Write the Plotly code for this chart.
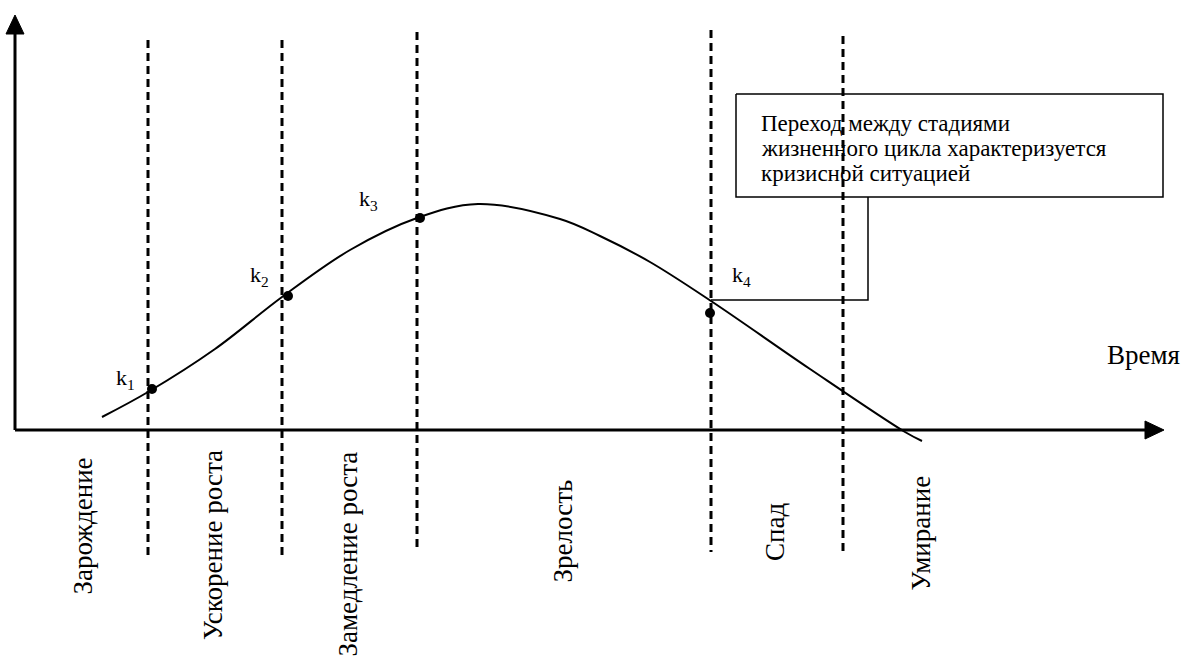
import plotly.graph_objects as go

# Life-cycle curve (diagram units: x to the right, y downward)
curve_x = [102, 148, 215, 282, 350, 417, 478, 560, 600, 650, 711, 810, 905, 922]
curve_y = [417, 392, 349, 297, 250, 218, 204, 219, 236, 262, 301, 369, 432, 441]

# Crisis points
k_x = [152, 288, 420, 710]
k_y = [389, 296, 218, 313]
k_names = ["k<sub>1</sub>", "k<sub>2</sub>", "k<sub>3</sub>", "k<sub>4</sub>"]
k_label_x = [125, 259, 368, 741]
k_label_y = [379, 276, 200, 276]

# Stage boundaries
bound_x = [148, 282, 417, 711, 843]
bound_top = [40, 40, 32, 30, 36]
bound_bottom = [558, 558, 551, 552, 552]

# Stage names (rotated)
stages = ["Зарождение", "Ускорение роста", "Замедление роста", "Зрелость", "Спад", "Умирание"]
stage_x = [82, 213, 347, 562, 775, 920]
stage_y = [597, 642, 659, 585, 563, 593]

note_lines = ["Переход между стадиями", "жизненного цикла характеризуется", "кризисной ситуацией"]

FONT = "Liberation Serif, Times New Roman, serif"

fig = go.Figure()

# axes
fig.add_trace(go.Scatter(x=[15, 15, None, 15, 1150], y=[430, 30, None, 430, 430],
                         mode="lines", line=dict(color="black", width=3), hoverinfo="skip"))
# arrowheads
fig.add_trace(go.Scatter(x=[6, 15, 24, 6], y=[34, 15, 34, 34], mode="lines", fill="toself",
                         fillcolor="black", line=dict(color="black", width=1), hoverinfo="skip"))
fig.add_trace(go.Scatter(x=[1145, 1164, 1145, 1145], y=[421, 430, 439, 421], mode="lines", fill="toself",
                         fillcolor="black", line=dict(color="black", width=1), hoverinfo="skip"))

# dashed boundaries
dx, dy = [], []
for bx, t, b in zip(bound_x, bound_top, bound_bottom):
    dx += [bx, bx, None]
    dy += [t, b, None]
fig.add_trace(go.Scatter(x=dx, y=dy, mode="lines",
                         line=dict(color="black", width=3, dash="8px,5px"), hoverinfo="skip"))

# curve
fig.add_trace(go.Scatter(x=curve_x, y=curve_y, mode="lines",
                         line=dict(color="black", width=2, shape="spline", smoothing=1.0), hoverinfo="skip"))

# crisis points
fig.add_trace(go.Scatter(x=k_x, y=k_y, mode="markers",
                         marker=dict(color="black", size=10), hoverinfo="skip"))

# callout connector and box
fig.add_trace(go.Scatter(x=[711, 868, 868], y=[300, 300, 197], mode="lines",
                         line=dict(color="black", width=1.5), hoverinfo="skip"))
fig.add_trace(go.Scatter(x=[736, 1163, 1163, 736, 736], y=[94, 94, 197, 197, 94], mode="lines",
                         line=dict(color="black", width=1.5), hoverinfo="skip"))

annotations = []
for name, lx, ly in zip(k_names, k_label_x, k_label_y):
    annotations.append(dict(x=lx, y=ly, text=name, showarrow=False, xanchor="center", yanchor="middle",
                            font=dict(family=FONT, size=22, color="black")))
for i, line in enumerate(note_lines):
    annotations.append(dict(x=759, y=123 + 25 * i, text=line, showarrow=False, xanchor="left", yanchor="middle",
                            font=dict(family=FONT, size=23, color="black")))
annotations.append(dict(x=1105, y=355, text="Время", showarrow=False, xanchor="left", yanchor="middle",
                        font=dict(family=FONT, size=27, color="black")))
for name, sx, sy in zip(stages, stage_x, stage_y):
    annotations.append(dict(x=sx, y=sy, text=name, showarrow=False, textangle=-90,
                            xanchor="center", yanchor="bottom",
                            font=dict(family=FONT, size=27, color="black")))

fig.update_layout(
    width=1185, height=661,
    margin=dict(l=0, r=0, t=0, b=0),
    paper_bgcolor="white", plot_bgcolor="white",
    showlegend=False,
    xaxis=dict(range=[0, 1185], visible=False, fixedrange=True),
    yaxis=dict(range=[661, 0], visible=False, fixedrange=True),
    annotations=annotations,
)

fig.write_html("out.html", config={"displayModeBar": False},
               post_script="document.body.style.margin='0';document.body.style.overflow='hidden';")
